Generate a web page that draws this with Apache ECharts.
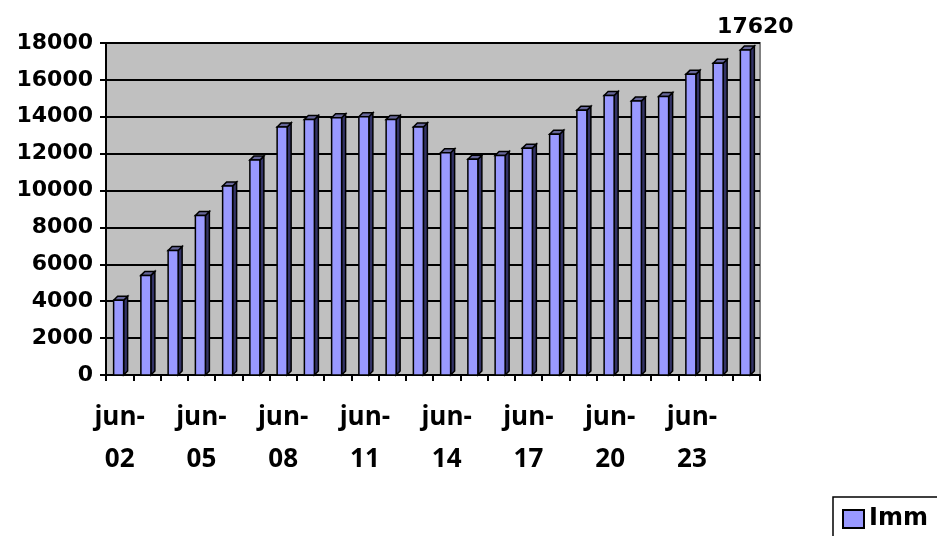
<!DOCTYPE html>
<html>
<head>
<meta charset="utf-8">
<script src="https://cdn.jsdelivr.net/npm/echarts@6/dist/echarts.min.js"></script>
<style>
  html, body { margin: 0; padding: 0; background: #fff; }
  #chart { width: 937px; height: 536px; }
</style>
</head>
<body>
<div id="chart"></div>
<script>
// anni da giugno 2002 a giugno 2025
var categories = ['jun-02', 'jun-03', 'jun-04', 'jun-05', 'jun-06', 'jun-07', 'jun-08', 'jun-09',
    'jun-10', 'jun-11', 'jun-12', 'jun-13', 'jun-14', 'jun-15', 'jun-16', 'jun-17',
    'jun-18', 'jun-19', 'jun-20', 'jun-21', 'jun-22', 'jun-23', 'jun-24', 'jun-25'];
var imm = [4050, 5400, 6750, 8650, 10250, 11650, 13450, 13850, 13950, 14000, 13850, 13450,
    12050, 11700, 11900, 12300, 13050, 14350, 15150, 14850, 15100, 16300, 16900, 17620];
var yTicks = [0, 2000, 4000, 6000, 8000, 10000, 12000, 14000, 16000, 18000];
var seriesName = 'Imm';

var chart = echarts.init(document.getElementById('chart'));

var barData = [];
for (var i = 0; i < imm.length; i++) {
    barData.push([i, imm[i]]);
}

// barra "3D": faccia, lato e cima
function renderBar(params, api) {
    var top = api.coord([api.value(0), api.value(1)]);
    var base = api.coord([api.value(0), 0]);
    var w = 10, d = 4, dy = 4;
    var x = top[0] - w / 2 - 1;
    var children = [
        {
            type: 'polygon',
            shape: { points: [[x + w, top[1]], [x + w + d, top[1] - dy], [x + w + d, base[1] - dy], [x + w, base[1]]] },
            style: { fill: '#333366', stroke: '#000', lineWidth: 1.5 }
        },
        {
            type: 'polygon',
            shape: { points: [[x, top[1]], [x + d, top[1] - dy], [x + w + d, top[1] - dy], [x + w, top[1]]] },
            style: { fill: '#666699', stroke: '#000', lineWidth: 1.5 }
        },
        {
            type: 'rect',
            shape: { x: x, y: top[1], width: w, height: base[1] - top[1] },
            style: { fill: '#9999FF', stroke: '#000', lineWidth: 1.5 }
        }
    ];
    if (params.dataIndex === imm.length - 1) {
        children.push({
            type: 'text',
            style: {
                text: String(api.value(1)),
                x: top[0] + 9, y: top[1] - 23,
                align: 'center', verticalAlign: 'middle',
                font: 'bold 22px "DejaVu Sans"', fill: '#000'
            }
        });
    }
    return { type: 'group', children: children };
}

var option = {
    animation: false,
    backgroundColor: '#fff',
    grid: {
        left: 106, right: 177, top: 43, bottom: 161,
        show: true,
        backgroundColor: '#C0C0C0',
        borderColor: '#808080',
        borderWidth: 2
    },
    legend: {
        left: 833, top: 497,
        data: [seriesName],
        icon: 'rect',
        itemWidth: 21, itemHeight: 18,
        itemGap: 6,
        padding: [10, 60, 14, 9],
        borderColor: '#000', borderWidth: 1.5,
        textStyle: { fontFamily: 'DejaVu Sans', fontWeight: 'bold', fontSize: 24, color: '#000' }
    },
    xAxis: {
        type: 'category',
        data: categories,
        axisLine: { lineStyle: { color: '#000', width: 2 } },
        axisTick: { show: true, interval: 0, length: 6, lineStyle: { color: '#000', width: 2 } },
        axisLabel: {
            interval: 2,
            margin: 22,
            lineHeight: 42,
            fontFamily: 'Open Sans', fontWeight: 'bold', fontSize: 26, color: '#000',
            formatter: function (v) { return v.replace('-', '-\n'); }
        },
        splitLine: { show: false }
    },
    yAxis: {
        type: 'value',
        min: yTicks[0], max: yTicks[yTicks.length - 1], interval: 2000,
        axisLine: { show: true, lineStyle: { color: '#000', width: 2 } },
        axisTick: { show: true, length: 6, lineStyle: { color: '#000', width: 2 } },
        axisLabel: {
            margin: 13, fontFamily: 'DejaVu Sans', fontWeight: 'bold', fontSize: 22, color: '#000',
            formatter: function (v) { return String(v); }
        },
        splitLine: { lineStyle: { color: '#000', width: 2 } }
    },
    series: [{
        name: seriesName,
        type: 'custom',
        clip: false,
        renderItem: renderBar,
        itemStyle: { color: '#9999FF', borderColor: '#000', borderWidth: 1.5 },
        encode: { x: 0, y: 1 },
        data: barData
    }]
};

chart.setOption(option);
</script>
</body>
</html>
